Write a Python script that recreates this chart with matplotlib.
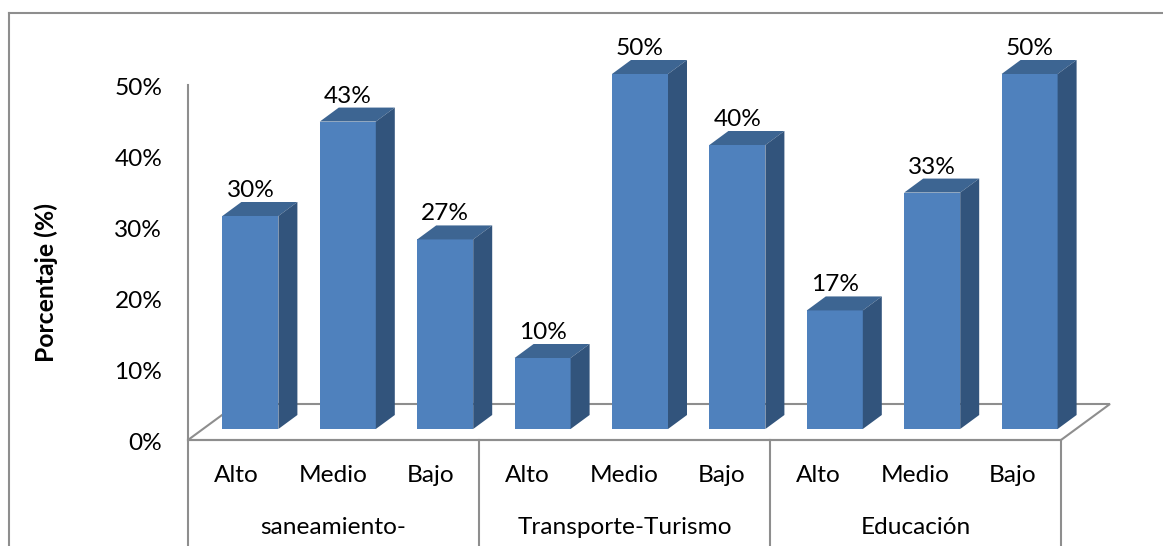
import matplotlib
matplotlib.use("Agg")
import matplotlib.pyplot as plt
from matplotlib.lines import Line2D
from matplotlib.patches import Polygon
from matplotlib.transforms import blended_transform_factory, ScaledTranslation

levels = ["Alto", "Medio", "Bajo"] * 3
groups = ["saneamiento-", "Transporte-Turismo", "Educación"]
values = [30, 43.3, 26.7, 10, 50, 40, 16.7, 33.3, 50]
yticks = [0, 10, 20, 30, 40, 50]

W, H = 1163, 546
plt.rcParams["font.family"] = ["Lato", "DejaVu Sans"]
GRAY = "#8e8e8e"
FRONT, TOP, SIDE = "#4f81bd", "#3d6592", "#32547c"
FS = 17.6

fig = plt.figure(figsize=(W / 100, H / 100), dpi=100)
L, R, T, B = 188, 1061, 85, 440
ax = fig.add_axes([L / W, 1 - B / H, (R - L) / W, (B - T) / H])
ax.set_xlim(0, 9)
ax.set_ylim(0, 50)
ax.patch.set_alpha(0)

px = 9 / (R - L)      # data units per pixel, x
py = 50 / (B - T)     # data units per pixel, y

# outer chart frame
for xs, ys in [((9, 9), (13, H)), ((9, W), (13, 13))]:
    fig.add_artist(Line2D([x / W for x in xs], [1 - y / H for y in ys],
                          color=GRAY, lw=1.5))

# floor
fd_x, fd_y = 49 * px, 36 * py
ax.add_patch(Polygon([(0, 0), (fd_x, fd_y), (9 + fd_x, fd_y), (9, 0)], closed=True,
                     fill=False, edgecolor=GRAY, lw=1.5, clip_on=False, zorder=1))

# bars with a drawn 3-D depth
bw = 56 * px
dx, dy = 19 * px, 14 * py
first, step = 62.4 * px, 97.4 * px
oy = 11 * py
for i, v in enumerate(values):
    xc = first + i * step
    x0 = xc - bw / 2
    x1 = xc + bw / 2
    y0 = oy
    y1 = oy + v
    ax.bar(xc, v, width=bw, bottom=oy, color=FRONT, linewidth=0,
           clip_on=False, zorder=3)
    ax.add_patch(Polygon([(x0, y1), (x0 + dx, y1 + dy), (x1 + dx, y1 + dy), (x1, y1)],
                         closed=True, color=TOP, lw=0, clip_on=False, zorder=3))
    ax.add_patch(Polygon([(x1, y0), (x1 + dx, y0 + dy), (x1 + dx, y1 + dy), (x1, y1)],
                         closed=True, color=SIDE, lw=0, clip_on=False, zorder=3))
    ax.text(xc, y1 + dy + 1 * py, f"{v:.0f}%", ha="center", va="bottom",
            fontsize=FS, color="black", zorder=4, clip_on=False)

for s in ["top", "right"]:
    ax.spines[s].set_visible(False)
for s in ["left", "bottom"]:
    ax.spines[s].set_color(GRAY)
    ax.spines[s].set_linewidth(1.5)

ax.set_yticks(yticks)
ax.set_yticklabels([f"{t}%" for t in yticks], fontsize=FS)
ax.tick_params(axis="y", length=0, pad=18.5)
shift = ScaledTranslation(0, -1.5 / 100, fig.dpi_scale_trans)
for lab in ax.get_yticklabels():
    lab.set_transform(lab.get_transform() + shift)
ax.set_xticks([i + 0.5 for i in range(9)])
ax.set_xticklabels(levels, fontsize=FS)
ax.tick_params(axis="x", length=0, pad=18)

# group separators and labels
trans = blended_transform_factory(ax.transData, fig.transFigure)
for g in range(4):
    fig.add_artist(Line2D([(L + g * (R - L) / 3) / W] * 2, [1 - B / H, 0],
                          color=GRAY, lw=1.5))
for g, name in enumerate(groups):
    ax.text(g * 3 + 1.5, 1 - 528 / H, name, transform=trans, ha="center", va="center",
            fontsize=FS)

fig.text(46 / W, 1 - 282 / H, "Porcentaje (%)", rotation=90, ha="center", va="center",
         fontsize=17.8, fontweight="bold")

fig.savefig("out.png", dpi=100, facecolor="white")
